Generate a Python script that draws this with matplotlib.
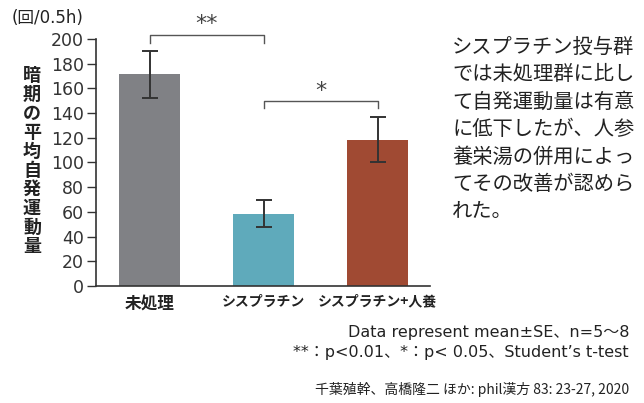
import matplotlib
matplotlib.use("Agg")
import matplotlib.pyplot as plt

plt.rcParams["font.family"] = ["Noto Sans CJK JP", "DejaVu Sans"]
LATIN = ["DejaVu Sans", "Noto Sans CJK JP"]

# ── data ────────────────────────────────────────────────────────────────────
groups = ["未処理", "シスプラチン", "シスプラチン+人養"]
means = [172, 58, 118]
se_upper = [18, 12, 18.5]
se_lower = [20, 10, 17.5]
colors = ["#808185", "#5faabb", "#a04a33"]

yticks = list(range(0, 201, 20))

note_lines = [
    "シスプラチン投与群",
    "では未処理群に比し",
    "て自発運動量は有意",
    "に低下したが、人参",
    "養栄湯の併用によっ",
    "てその改善が認めら",
    "れた。",
]

TEXT = "#222222"
W, H = 644, 403

fig = plt.figure(figsize=(W / 100, H / 100), dpi=100)
fig.patch.set_facecolor("white")

# axes box in pixel units: x 96..430, y 39..286
ax = fig.add_axes([96 / W, (H - 286) / H, (430 - 96) / W, (286 - 39) / H])

x = list(range(len(groups)))
ax.bar(x, means, width=0.535, color=colors, zorder=2)
ax.errorbar(x, means, yerr=[se_lower, se_upper], fmt="none",
            ecolor="#333333", elinewidth=1.4, capsize=5.5, capthick=1.4, zorder=3)

ax.set_xlim(-0.47, 2.46)
ax.set_ylim(0, 200)
ax.set_yticks(yticks)
ax.set_yticklabels([str(t) for t in yticks], fontsize=12.5, color="#333333",
                   family=LATIN)
ax.set_xticks(x)
ax.set_xticklabels(groups, fontweight="bold", color=TEXT)
for lab, size in zip(ax.get_xticklabels(), [12, 10, 10]):
    lab.set_fontsize(size)
ax.tick_params(axis="y", length=6.5, width=1, color="#333333", pad=2)
ax.tick_params(axis="x", length=0, pad=6)
for side in ("top", "right"):
    ax.spines[side].set_visible(False)
for side in ("left", "bottom"):
    ax.spines[side].set_color("#333333")
    ax.spines[side].set_linewidth(1.2)


def bracket(x0, x1, y, drop, label):
    ax.plot([x0, x0, x1, x1], [y - drop, y, y, y - drop], color="#555555",
            lw=1.0, clip_on=False, zorder=4)
    ax.text((x0 + x1) / 2, y + 0.5, label, ha="center", va="bottom",
            fontsize=16, color="#444444", clip_on=False, family=LATIN)


bracket(0, 1, 203.5, 6.5, "**")
bracket(1, 2, 149.5, 5.5, "*")

# vertical stacked y-label
fig.text(32 / W, 1 - 161 / H, "\n".join("暗期の平均自発運動量"), ha="center",
         va="center", fontsize=13, fontweight="bold", color=TEXT, linespacing=1.0)
fig.text(12 / W, 1 - 18 / H, "(回/0.5h)", ha="left", va="center",
         fontsize=12, color=TEXT, family=LATIN)

# side note
for i, line in enumerate(note_lines):
    fig.text(452 / W, 1 - (47 + 27.5 * i) / H, line, ha="left", va="center",
             fontsize=14.6, color=TEXT)

fig.text(629 / W, 1 - 333 / H, "Data represent mean±SE、n=5〜8", ha="right",
         va="center", fontsize=11.5, color=TEXT, family=LATIN)
fig.text(629 / W, 1 - 352 / H, "**：p<0.01、*：p< 0.05、Student’s t-test",
         ha="right", va="center", fontsize=11.5, color=TEXT, family=LATIN)
fig.text(629 / W, 1 - 389 / H, "千葉殖幹、高橋隆二 ほか: phil漢方 83: 23-27, 2020",
         ha="right", va="center", fontsize=10, color=TEXT)

fig.savefig("out.png", dpi=100, facecolor="white")
